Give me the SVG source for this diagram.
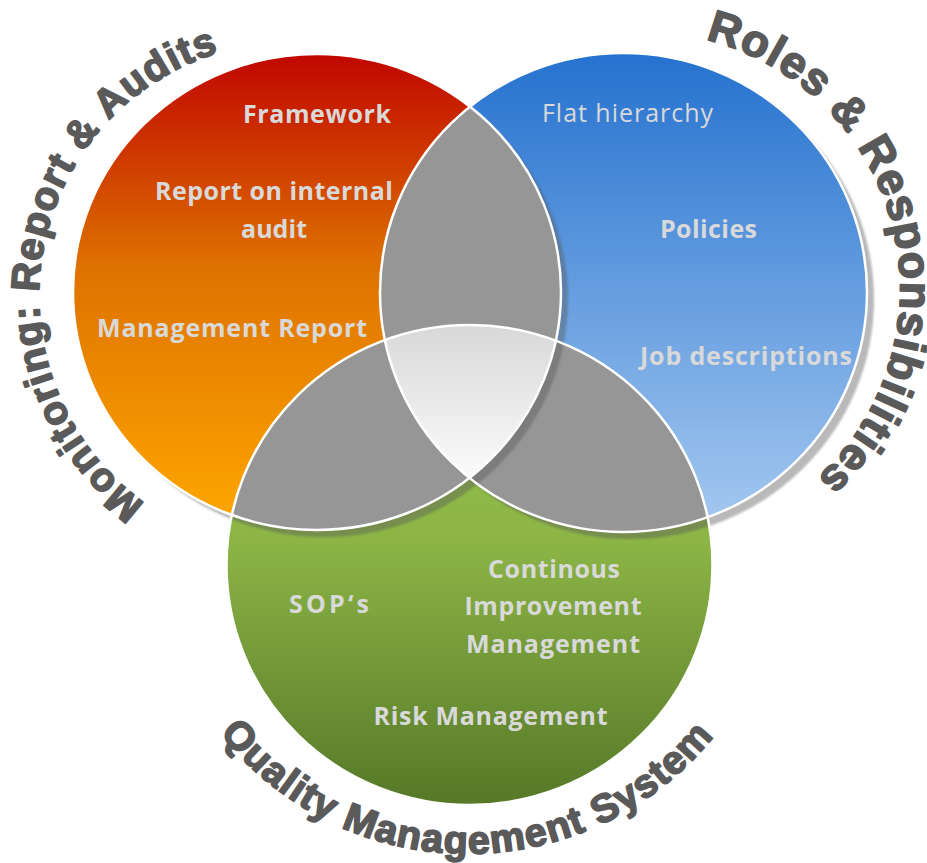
<svg xmlns="http://www.w3.org/2000/svg" width="927" height="863" viewBox="0 0 927 863">
  <style>
    .lbl { font-family: "Open Sans", "Lato", sans-serif; font-size: 25px; font-weight: bold; fill: #d9d9d9; text-anchor: middle; }
    .reg { font-weight: normal; }
    .title { font-family: "Liberation Sans", Arial, sans-serif; font-weight: bold; fill: #5a5a5a; stroke: #5a5a5a; stroke-width: 1.7; stroke-linejoin: round; letter-spacing: 1.2px; }
    .outline { fill: none; stroke: #ffffff; stroke-width: 2.5; }
    .lens { fill: #969696; }
    .shadow { fill: #595959; opacity: 0.42; }
  </style>
  <defs>
    <linearGradient id="gRed" x1="0" y1="0" x2="0" y2="1">
      <stop offset="0" stop-color="#c00600"/>
      <stop offset="0.45" stop-color="#de7200"/>
      <stop offset="1" stop-color="#ffa800"/>
    </linearGradient>
    <linearGradient id="gBlue" x1="0" y1="0" x2="0" y2="1">
      <stop offset="0" stop-color="#2572cf"/>
      <stop offset="1" stop-color="#a6c9f0"/>
    </linearGradient>
    <linearGradient id="gGreen" x1="0" y1="0" x2="0" y2="1">
      <stop offset="0" stop-color="#96c24e"/>
      <stop offset="0.45" stop-color="#8cb546"/>
      <stop offset="1" stop-color="#567828"/>
    </linearGradient>
    <linearGradient id="gCenter" gradientUnits="userSpaceOnUse" x1="0" y1="325" x2="0" y2="478">
      <stop offset="0" stop-color="#d8d8d8"/>
      <stop offset="1" stop-color="#fbfbfb"/>
    </linearGradient>
    <clipPath id="cRed"><ellipse cx="317" cy="292" rx="244" ry="238"/></clipPath>
    <clipPath id="cBlue"><ellipse cx="623.5" cy="292.5" rx="243.5" ry="239.5"/></clipPath>
    <clipPath id="cGreen"><ellipse cx="469.5" cy="565" rx="243" ry="240"/></clipPath>
    <mask id="mOutRed" maskUnits="userSpaceOnUse" x="0" y="0" width="927" height="863">
      <rect x="0" y="0" width="927" height="863" fill="#fff"/>
      <ellipse cx="317" cy="292" rx="244" ry="238" fill="#000"/>
    </mask>
    <mask id="mOutBlue" maskUnits="userSpaceOnUse" x="0" y="0" width="927" height="863">
      <rect x="0" y="0" width="927" height="863" fill="#fff"/>
      <ellipse cx="623.5" cy="292.5" rx="243.5" ry="239.5" fill="#000"/>
    </mask>
    <filter id="blur" x="-5%" y="-5%" width="110%" height="110%">
      <feGaussianBlur stdDeviation="1.2"/>
    </filter>
    <path id="arcMon" d="M 296.9 551.0 A 255 255 0 1 1 378.5 55.4"/>
    <path id="arcRoles" d="M 537.7 54.6 A 257 257 0 1 1 661.8 545.3"/>
    <path id="arcQms" d="M 157 481.8 A 316 316 0 1 0 779.5 484.5"/>
  </defs>

  <rect x="0" y="0" width="927" height="863" fill="#ffffff"/>

  <g id="node-quality-management-system">
    <ellipse cx="469.5" cy="565" rx="243" ry="240" fill="url(#gGreen)"/>
    <text class="lbl" x="329" y="613" font-size="29" textLength="80" lengthAdjust="spacing">SOP‘s</text>
    <text class="lbl" x="554" y="578" textLength="132" lengthAdjust="spacing">Continous</text>
    <text class="lbl" x="553" y="615" textLength="177" lengthAdjust="spacing">Improvement</text>
    <text class="lbl" x="553" y="653" textLength="174" lengthAdjust="spacing">Management</text>
    <text class="lbl" x="490.5" y="725" textLength="234" lengthAdjust="spacing">Risk Management</text>
    <text class="title" font-size="39.5"><textPath href="#arcQms" startOffset="50%" text-anchor="middle">Quality Management System</textPath></text>
  </g>

  <g id="node-monitoring">
    <ellipse cx="317" cy="292" rx="244" ry="238" fill="url(#gRed)"/>
    <text class="lbl" x="317" y="123" textLength="148" lengthAdjust="spacing">Framework</text>
    <text class="lbl" x="274" y="200" textLength="238" lengthAdjust="spacing">Report on internal</text>
    <text class="lbl" x="274" y="238" textLength="66" lengthAdjust="spacing">audit</text>
    <text class="lbl" x="232" y="337" textLength="270" lengthAdjust="spacing">Management Report</text>
    <text class="title" font-size="40"><textPath href="#arcMon" startOffset="50%" text-anchor="middle">Monitoring: Report &amp; Audits</textPath></text>
  </g>

  <g id="node-roles">
    <ellipse cx="623.5" cy="292.5" rx="243.5" ry="239.5" fill="url(#gBlue)"/>
    <text class="lbl reg" x="627.5" y="122" textLength="171" lengthAdjust="spacing">Flat hierarchy</text>
    <text class="lbl" x="708.5" y="238" textLength="97" lengthAdjust="spacing">Policies</text>
    <text class="lbl" x="746" y="365" textLength="212" lengthAdjust="spacing">Job descriptions</text>
    <text class="title" font-size="45"><textPath href="#arcRoles" startOffset="50%" text-anchor="middle">Roles &amp; Responsibilities</textPath></text>
  </g>

  <g id="overlaps">
    <ellipse class="lens" cx="317" cy="292" rx="244" ry="238" clip-path="url(#cBlue)"/>
    <ellipse class="lens" cx="317" cy="292" rx="244" ry="238" clip-path="url(#cGreen)"/>
    <ellipse class="lens" cx="623.5" cy="292.5" rx="243.5" ry="239.5" clip-path="url(#cGreen)"/>
    <g clip-path="url(#cGreen)">
      <ellipse cx="317" cy="292" rx="244" ry="238" fill="url(#gCenter)" clip-path="url(#cBlue)"/>
    </g>
  </g>

  <g id="shadows">
    <g mask="url(#mOutRed)">
      <ellipse class="shadow" cx="324" cy="299" rx="244" ry="238" filter="url(#blur)"/>
    </g>
    <g mask="url(#mOutBlue)">
      <ellipse class="shadow" cx="630.5" cy="299.5" rx="243.5" ry="239.5" filter="url(#blur)"/>
    </g>
  </g>

  <g id="connectors">
    <ellipse class="outline" cx="469.5" cy="565" rx="243" ry="240"/>
    <ellipse class="outline" cx="317" cy="292" rx="244" ry="238"/>
    <ellipse class="outline" cx="623.5" cy="292.5" rx="243.5" ry="239.5"/>
  </g>
</svg>
